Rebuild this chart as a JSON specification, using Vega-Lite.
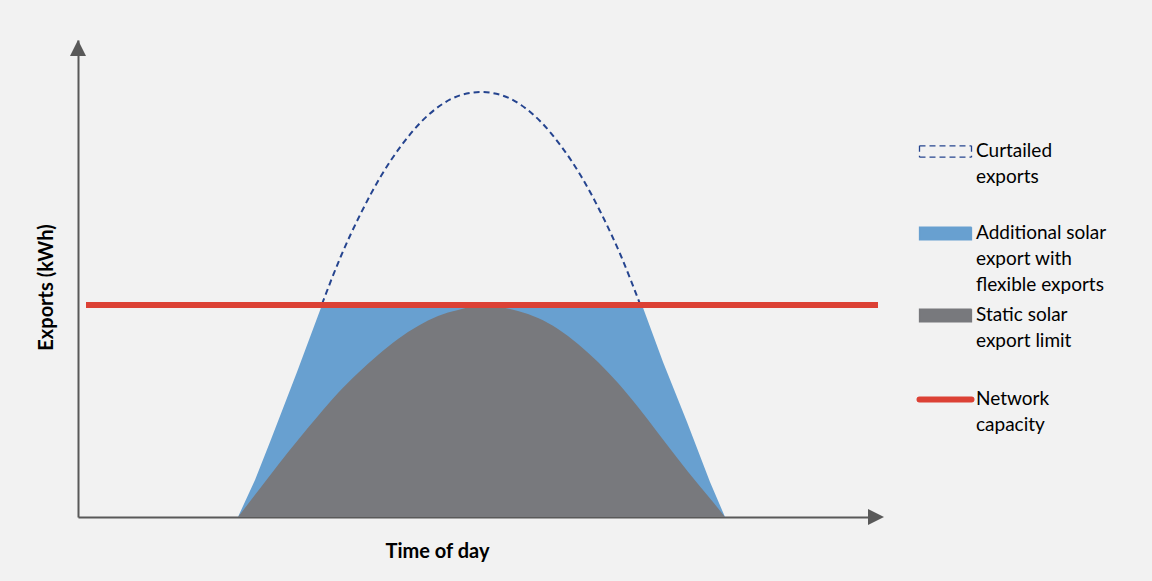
{
  "$schema": "https://vega.github.io/schema/vega-lite/v6.json",
  "width": 800,
  "height": 477,
  "autosize": "none",
  "padding": {"left": 78, "top": 40, "right": 274, "bottom": 64},
  "background": "#f2f2f2",
  "config": {"view": {"stroke": null}, "font": "Lato"},
  "encoding": {
    "x": {
      "field": "t", "type": "quantitative",
      "scale": {"domain": [0, 800], "nice": false, "zero": false},
      "axis": {
        "title": "Time of day", "domain": true, "domainColor": "#595959", "domainWidth": 2,
        "ticks": false, "labels": false, "grid": false,
        "titleFont": "Lato", "titleFontSize": 20, "titleFontWeight": "bold", "titleColor": "#000000",
        "titleX": 359, "titleY": 40, "titleBaseline": "alphabetic", "titleAlign": "center"
      }
    },
    "y": {
      "field": "v", "type": "quantitative",
      "scale": {"domain": [0, 477], "nice": false, "zero": false},
      "axis": {
        "title": "Exports (kWh)", "domain": true, "domainColor": "#595959", "domainWidth": 2,
        "ticks": false, "labels": false, "grid": false,
        "titleFont": "Lato", "titleFontSize": 20, "titleFontWeight": "bold", "titleColor": "#000000",
        "titleX": -32, "titleY": 247, "titleBaseline": "middle", "titleAlign": "center", "titleAngle": -90
      }
    }
  },
  "layer": [
    {
      "data": {"values": [
        {"t": 244, "v": 213, "series": "Curtailed exports"},
        {"t": 263, "v": 261, "series": "Curtailed exports"},
        {"t": 283, "v": 304, "series": "Curtailed exports"},
        {"t": 303, "v": 341, "series": "Curtailed exports"},
        {"t": 323, "v": 371, "series": "Curtailed exports"},
        {"t": 343, "v": 395, "series": "Curtailed exports"},
        {"t": 363, "v": 412, "series": "Curtailed exports"},
        {"t": 383, "v": 422, "series": "Curtailed exports"},
        {"t": 403, "v": 425, "series": "Curtailed exports"},
        {"t": 423, "v": 422, "series": "Curtailed exports"},
        {"t": 443, "v": 412, "series": "Curtailed exports"},
        {"t": 463, "v": 395, "series": "Curtailed exports"},
        {"t": 483, "v": 371, "series": "Curtailed exports"},
        {"t": 503, "v": 341, "series": "Curtailed exports"},
        {"t": 523, "v": 304, "series": "Curtailed exports"},
        {"t": 543, "v": 261, "series": "Curtailed exports"},
        {"t": 562, "v": 213, "series": "Curtailed exports"}
      ]},
      "mark": {"type": "line", "interpolate": "monotone", "strokeWidth": 2, "strokeDash": [6, 4]},
      "encoding": {
        "color": {
          "field": "series", "type": "nominal",
          "scale": {
            "domain": ["Curtailed exports", "Additional solar export with flexible exports", "Static solar export limit", "Network capacity"],
            "range": ["#25448f", "#68a0d0", "#78797d", "#dc4135"]
          },
          "legend": {
            "orient": "none", "legendX": 858, "legendY": 102, "title": null, "padding": 0,
            "symbolSize": 2704, "symbolStrokeWidth": 1.5,
            "labelFont": "Lato", "labelFontSize": 19, "labelColor": "#000000", "labelOffset": 21,
            "labelBaseline": "top", "labelLimit": 300, "rowPadding": 10,
            "labelExpr": "datum.label == 'Curtailed exports' ? ['Curtailed', 'exports', ' '] : datum.label == 'Static solar export limit' ? ['Static solar', 'export limit', ' '] : datum.label == 'Network capacity' ? ['Network', 'capacity', ' '] : ['Additional solar', 'export with', 'flexible exports']",
            "encode": {
              "symbols": {"update": {
                "shape": {"signal": "datum.value == 'Network capacity' ? 'M-1,0H1' : datum.value == 'Curtailed exports' ? 'M-1,-0.22H1M-1,0.22H1M-1,-0.22V0.22M1,-0.22V0.22' : 'M-1,-0.24H1V0.24H-1Z'"},
                "fill": {"signal": "datum.value == 'Additional solar export with flexible exports' ? '#68a0d0' : datum.value == 'Static solar export limit' ? '#78797d' : 'transparent'"},
                "fillOpacity": {"value": 1},
                "stroke": {"signal": "datum.value == 'Curtailed exports' ? '#25448f' : datum.value == 'Network capacity' ? '#dc4135' : 'transparent'"},
                "strokeWidth": {"signal": "datum.value == 'Network capacity' ? 6 : 1.3"},
                "strokeDash": {"signal": "datum.value == 'Curtailed exports' ? [6, 4] : [1, 0]"},
                "strokeCap": {"signal": "datum.value == 'Network capacity' ? 'round' : 'butt'"},
                "opacity": {"value": 1}
              }},
              "labels": {"update": {"dy": {"value": -10}, "lineHeight": {"value": 26}}}
            }
          }
        }
      }
    },
    {
      "data": {"values": [
        {"t": 160, "v": 0, "series": "Additional solar export with flexible exports"},
        {"t": 177, "v": 37, "series": "Additional solar export with flexible exports"},
        {"t": 192, "v": 75, "series": "Additional solar export with flexible exports"},
        {"t": 219, "v": 145, "series": "Additional solar export with flexible exports"},
        {"t": 244, "v": 212, "series": "Additional solar export with flexible exports"},
        {"t": 564, "v": 212, "series": "Additional solar export with flexible exports"},
        {"t": 585, "v": 155, "series": "Additional solar export with flexible exports"},
        {"t": 609, "v": 95, "series": "Additional solar export with flexible exports"},
        {"t": 632, "v": 35, "series": "Additional solar export with flexible exports"},
        {"t": 647, "v": 0, "series": "Additional solar export with flexible exports"}
      ]},
      "mark": {"type": "area", "opacity": 1},
      "encoding": {"color": {"field": "series", "type": "nominal"}}
    },
    {
      "data": {"values": [
        {"t": 160, "v": 0, "series": "Static solar export limit"},
        {"t": 180, "v": 26, "series": "Static solar export limit"},
        {"t": 200, "v": 52, "series": "Static solar export limit"},
        {"t": 220, "v": 77, "series": "Static solar export limit"},
        {"t": 240, "v": 101, "series": "Static solar export limit"},
        {"t": 260, "v": 124, "series": "Static solar export limit"},
        {"t": 280, "v": 144, "series": "Static solar export limit"},
        {"t": 300, "v": 162, "series": "Static solar export limit"},
        {"t": 320, "v": 178, "series": "Static solar export limit"},
        {"t": 340, "v": 191, "series": "Static solar export limit"},
        {"t": 360, "v": 201, "series": "Static solar export limit"},
        {"t": 380, "v": 207, "series": "Static solar export limit"},
        {"t": 400, "v": 211, "series": "Static solar export limit"},
        {"t": 420, "v": 210, "series": "Static solar export limit"},
        {"t": 440, "v": 206, "series": "Static solar export limit"},
        {"t": 460, "v": 199, "series": "Static solar export limit"},
        {"t": 480, "v": 188, "series": "Static solar export limit"},
        {"t": 500, "v": 173, "series": "Static solar export limit"},
        {"t": 520, "v": 155, "series": "Static solar export limit"},
        {"t": 540, "v": 134, "series": "Static solar export limit"},
        {"t": 560, "v": 110, "series": "Static solar export limit"},
        {"t": 580, "v": 84, "series": "Static solar export limit"},
        {"t": 600, "v": 58, "series": "Static solar export limit"},
        {"t": 620, "v": 33, "series": "Static solar export limit"},
        {"t": 635, "v": 15, "series": "Static solar export limit"},
        {"t": 647, "v": 0, "series": "Static solar export limit"}
      ]},
      "mark": {"type": "area", "interpolate": "monotone", "opacity": 1},
      "encoding": {"color": {"field": "series", "type": "nominal"}}
    },
    {
      "data": {"values": [
        {"t": 8, "t2": 800, "v": 212, "series": "Network capacity"}
      ]},
      "mark": {"type": "rule", "strokeWidth": 6},
      "encoding": {
        "x2": {"field": "t2"},
        "color": {"field": "series", "type": "nominal"}
      }
    },
    {
      "data": {"values": [
        {"t": 0, "v": 469, "dir": "up"},
        {"t": 798, "v": 0, "dir": "right"}
      ]},
      "mark": {"type": "point", "filled": true, "color": "#595959", "opacity": 1, "size": 256},
      "encoding": {
        "shape": {
          "field": "dir", "type": "nominal",
          "scale": {"domain": ["up", "right"], "range": ["M0,-1L1,1L-1,1Z", "M1,0L-1,1L-1,-1Z"]},
          "legend": null
        }
      }
    }
  ]
}
